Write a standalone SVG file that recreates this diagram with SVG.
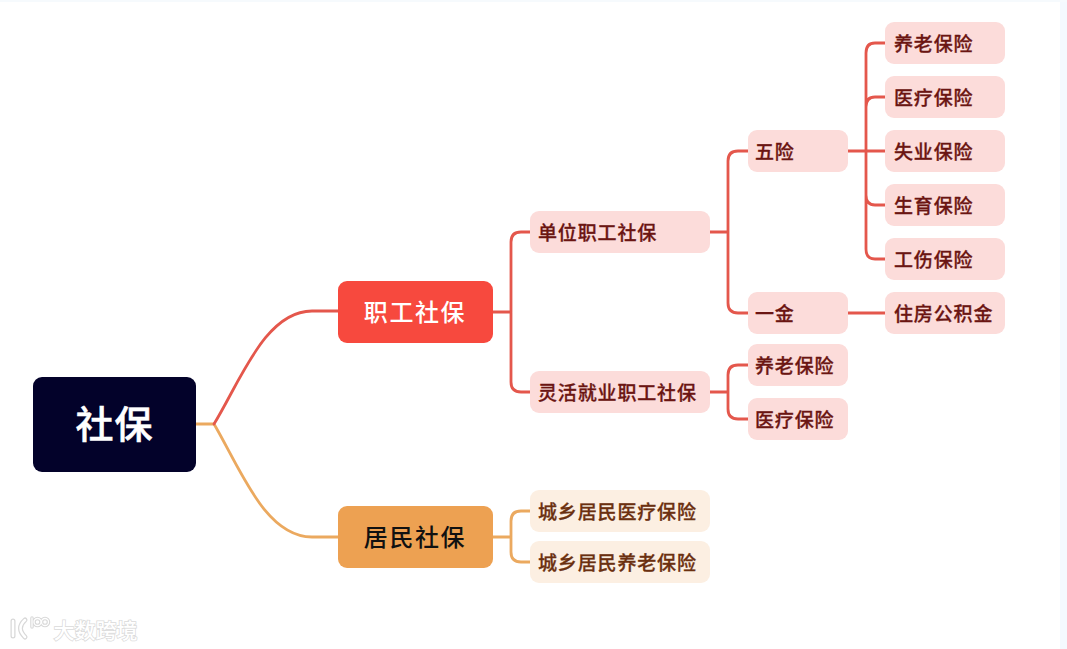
<svg xmlns="http://www.w3.org/2000/svg" width="1067" height="649" viewBox="0 0 1067 649">
<style>
text{font-family:"Noto Sans CJK SC","Noto Sans CJK JP",sans-serif;text-anchor:middle;dominant-baseline:central}
.l{fill:none;stroke-width:2.800;stroke-linecap:round}
.r{stroke:#e4574c}.o{stroke:#eba95f}
.p{fill:#fcdcda}.c{fill:#fcefe2}
.t{font-size:19px;font-weight:500;fill:#6b1512;stroke:#6b1512;stroke-width:.3px;letter-spacing:.85px;text-anchor:start}
.tc{font-size:19px;font-weight:500;fill:#6b3010;stroke:#6b3010;stroke-width:.3px;letter-spacing:.85px;text-anchor:start}
.m{font-size:24px;font-weight:500;letter-spacing:1.6px}
</style>
<rect width="1067" height="649" fill="#fff"/>
<rect x="1060" width="7" height="649" fill="#f4f9fe"/>
<rect width="1067" height="2" fill="#f6fafd"/>
<g id="connectors">
<path class="l o" d="M196 424H214C240 468 265 537 312 537H338"/>
<path class="l r" d="M214 424C240 382 265 311 312 311H338"/>
<path class="l r" d="M493 312H511M530 232H521Q511 232 511 242V382Q511 392 521 392H530"/>
<path class="l r" d="M710 232H728M748 151H738Q728 151 728 161V303Q728 313 738 313H748"/>
<path class="l r" d="M710 392H728M748 365H738Q728 365 728 375V409Q728 419 738 419H748"/>
<path class="l r" d="M848 151H885M885 43H875Q866 43 866 53V249Q866 259 875 259H885M885 97H875Q866 97 866 107M885 205H875Q866 205 866 195"/>
<path class="l r" d="M848 313H885"/>
<path class="l o" d="M493 537H511M530 511H521Q511 511 511 521V552Q511 562 521 562H530"/>
</g>
<g id="root"><rect x="33" y="377" width="163" height="95" rx="9" fill="#03022a"/><text x="114.500" y="421" font-size="38" font-weight="500" fill="#fff" stroke="#fff" stroke-width=".5" letter-spacing="1">社保</text></g>
<g id="n-zhigong"><rect x="338" y="281" width="155" height="62" rx="9" fill="#f7493e"/><text class="m" x="415" y="310" fill="#fff">职工社保</text></g>
<g id="n-jumin"><rect x="338" y="506" width="155" height="62" rx="9" fill="#eda152"/><text class="m" x="415" y="535" fill="#111">居民社保</text></g>
<g id="n-danwei"><rect class="p" x="530" y="211" width="180" height="42" rx="9"/><text class="t" x="538" y="231">单位职工社保</text></g>
<g id="n-linghuo"><rect class="p" x="530" y="371" width="180" height="42" rx="9"/><text class="t" x="538" y="391">灵活就业职工社保</text></g>
<g id="n-cx1"><rect class="c" x="530" y="490" width="180" height="42" rx="9"/><text class="tc" x="538" y="510">城乡居民医疗保险</text></g>
<g id="n-cx2"><rect class="c" x="530" y="541" width="180" height="42" rx="9"/><text class="tc" x="538" y="561">城乡居民养老保险</text></g>
<g id="n-wuxian"><rect class="p" x="748" y="130" width="100" height="42" rx="9"/><text class="t" x="755" y="150">五险</text></g>
<g id="n-yijin"><rect class="p" x="748" y="292" width="100" height="42" rx="9"/><text class="t" x="755" y="312">一金</text></g>
<g id="n-lh1"><rect class="p" x="748" y="344" width="100" height="42" rx="9"/><text class="t" x="755" y="364">养老保险</text></g>
<g id="n-lh2"><rect class="p" x="748" y="398" width="100" height="42" rx="9"/><text class="t" x="755" y="418">医疗保险</text></g>
<g id="n-w1"><rect class="p" x="885" y="22" width="120" height="42" rx="9"/><text class="t" x="894" y="42">养老保险</text></g>
<g id="n-w2"><rect class="p" x="885" y="76" width="120" height="42" rx="9"/><text class="t" x="894" y="96">医疗保险</text></g>
<g id="n-w3"><rect class="p" x="885" y="130" width="120" height="42" rx="9"/><text class="t" x="894" y="150">失业保险</text></g>
<g id="n-w4"><rect class="p" x="885" y="184" width="120" height="42" rx="9"/><text class="t" x="894" y="204">生育保险</text></g>
<g id="n-w5"><rect class="p" x="885" y="238" width="120" height="42" rx="9"/><text class="t" x="894" y="258">工伤保险</text></g>
<g id="n-zf"><rect class="p" x="885" y="292" width="120" height="42" rx="9"/><text class="t" x="894" y="312">住房公积金</text></g>
<g id="watermark">
<g fill="none" stroke="#d8d8d8" stroke-width="5" stroke-linecap="round"><path d="M13 621V636M25 620Q16 628 25 637"/><path d="M32 618V627" stroke-width="3.500"/><circle cx="37.500" cy="622" r="3.500" stroke-width="3.500"/><circle cx="45" cy="622" r="3.500" stroke-width="3.500"/></g>
<g fill="none" stroke="#fff" stroke-width="2.500" stroke-linecap="round"><path d="M13 621V636M25 620Q16 628 25 637"/><path d="M32 618V627" stroke-width="1.300"/><circle cx="37.500" cy="622" r="3.500" stroke-width="1.300"/><circle cx="45" cy="622" r="3.500" stroke-width="1.300"/></g>
<text x="95.500" y="629" font-size="21" font-weight="500" fill="#fff" stroke="#dadada" stroke-width="1.500" paint-order="stroke">大数跨境</text>
</g>
</svg>
